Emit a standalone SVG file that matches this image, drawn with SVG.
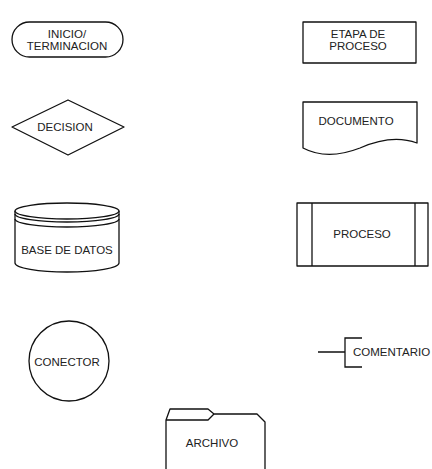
<svg xmlns="http://www.w3.org/2000/svg" width="432" height="469" viewBox="0 0 432 469">
<style>
.s{fill:#fff;stroke:#111;stroke-width:1.3;stroke-linejoin:round}
.l{fill:none;stroke:#111;stroke-width:1.3}
text{font-family:"Liberation Sans",Arial,sans-serif;font-size:11.5px;fill:#222;text-anchor:middle}
</style>
<rect width="432" height="469" fill="#fff"/>
<g id="inicio">
<rect class="s" x="12" y="22" width="111" height="35" rx="17.5"/>
<text x="67" y="38">INICIO/</text>
<text x="67" y="50">TERMINACION</text>
</g>
<g id="etapa">
<rect class="s" x="303" y="22" width="113" height="41"/>
<text x="358" y="37.5">ETAPA DE</text>
<text x="358" y="49.5">PROCESO</text>
</g>
<g id="decision">
<polygon class="s" points="68,100 124,127 68,155 12,127"/>
<text x="65" y="131">DECISION</text>
</g>
<g id="documento">
<path class="s" d="M303,102 H417 V143 C398,136 378,140 360,148 C342,155 322,158 303,148 Z"/>
<text x="356" y="125">DOCUMENTO</text>
</g>
<g id="base">
<path class="s" d="M15,211 V263 A52,9 0 0 0 119,263 V211"/>
<ellipse class="s" cx="67" cy="211" rx="52" ry="8"/>
<path class="l" d="M15,214 A52,8 0 0 0 119,214"/>
<path class="l" d="M15,219 A52,8 0 0 0 119,219"/>
<text x="67" y="254">BASE DE DATOS</text>
</g>
<g id="proceso">
<rect class="s" x="297" y="203" width="131" height="63"/>
<line class="l" x1="312" y1="203" x2="312" y2="266"/>
<line class="l" x1="415" y1="203" x2="415" y2="266"/>
<text x="362" y="238">PROCESO</text>
</g>
<g id="conector">
<circle class="s" cx="69" cy="361" r="40"/>
<text x="67" y="366">CONECTOR</text>
</g>
<g id="comentario">
<path class="l" d="M318,352 H345 M362,338 H345 V367 H362"/>
<text x="353" y="356" style="text-anchor:start">COMENTARIO</text>
</g>
<g id="archivo">
<path class="s" d="M166,469 V420 L170,409 H208 L214,414 H257 L265,422 V469"/>
<path class="l" d="M166,420 H208 L214,414"/>
<text x="212" y="447">ARCHIVO</text>
</g>
<g id="connectors"></g>
</svg>
